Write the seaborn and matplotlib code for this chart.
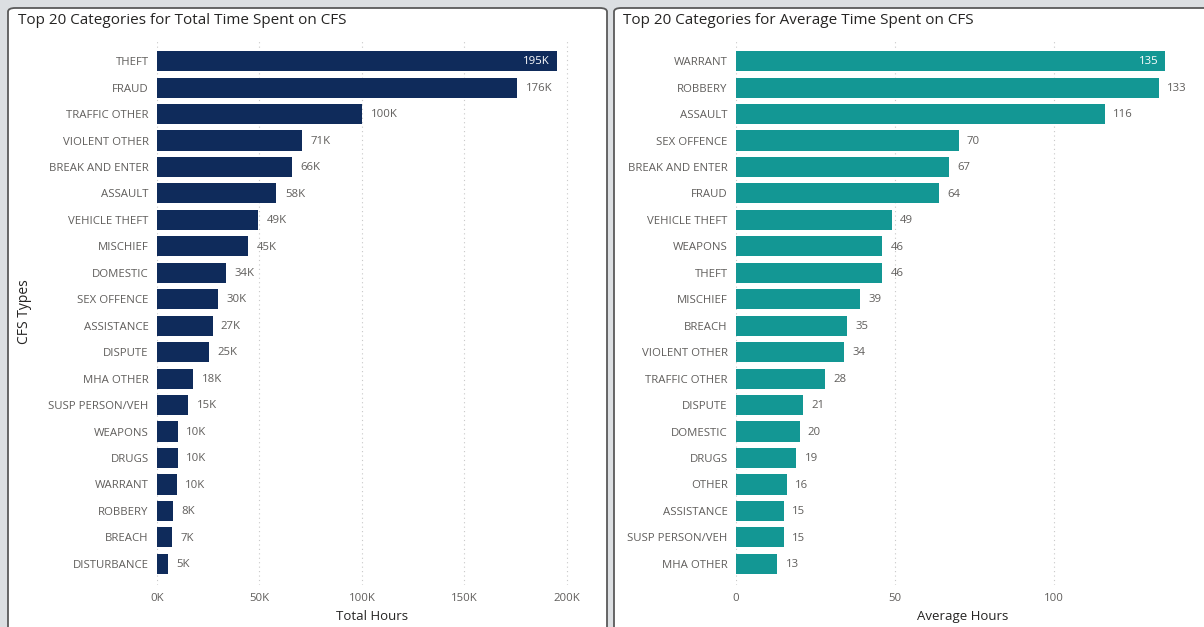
import matplotlib
matplotlib.use("Agg")
import matplotlib.pyplot as plt
import seaborn as sns
import pandas as pd
from matplotlib.patches import FancyBboxPatch
from matplotlib.ticker import FuncFormatter

sns.set_theme(style="white")
plt.rcParams['font.family'] = ['Open Sans', 'DejaVu Sans']

# --- data (hours) ---
total_types = ["THEFT", "FRAUD", "TRAFFIC OTHER", "VIOLENT OTHER", "BREAK AND ENTER",
               "ASSAULT", "VEHICLE THEFT", "MISCHIEF", "DOMESTIC", "SEX OFFENCE",
               "ASSISTANCE", "DISPUTE", "MHA OTHER", "SUSP PERSON/VEH", "WEAPONS",
               "DRUGS", "WARRANT", "ROBBERY", "BREACH", "DISTURBANCE"]
total_hours = [195200, 175800, 100100, 70800, 65900, 58300, 49400, 44600, 33900, 29800,
               27100, 25200, 17800, 15200, 10300, 10100, 9700, 7900, 7200, 5300]

avg_types = ["WARRANT", "ROBBERY", "ASSAULT", "SEX OFFENCE", "BREAK AND ENTER", "FRAUD",
             "VEHICLE THEFT", "WEAPONS", "THEFT", "MISCHIEF", "BREACH", "VIOLENT OTHER",
             "TRAFFIC OTHER", "DISPUTE", "DOMESTIC", "DRUGS", "OTHER", "ASSISTANCE",
             "SUSP PERSON/VEH", "MHA OTHER"]
avg_hours = [135, 133, 116, 70, 67, 64, 49, 46, 46, 39, 35, 34, 28, 21, 20, 19, 16, 15, 15, 13]

df_total = pd.DataFrame({"type": total_types, "hours": total_hours})
df_avg = pd.DataFrame({"type": avg_types, "hours": avg_hours})

NAVY = "#0f2b5b"
TEAL = "#139794"
TICK = "#605e5c"
DARK = "#252423"

fig = plt.figure(figsize=(12.04, 6.27), dpi=100)
fig.patch.set_facecolor("#dcdfe2")

W, H = 1204, 627
def px(x0, y0, x1, y1):
    return [x0 / W, 1 - y1 / H, (x1 - x0) / W, (y1 - y0) / H]

# panel backgrounds
for x0, x1 in [(8, 607), (614, 1212)]:
    fig.patches.append(FancyBboxPatch((x0 / W, -0.05), (x1 - x0) / W, 1 - 8 / H + 0.05,
                                      boxstyle="round,pad=0,rounding_size=0.006",
                                      transform=fig.transFigure, facecolor="white",
                                      edgecolor="#5a5a5a", linewidth=1.3, zorder=-5))

ax1 = fig.add_axes(px(157, 40, 587, 585))
ax2 = fig.add_axes(px(736, 40, 1190, 585))

def draw(ax, df, color, xmax, ticks, fmt, label_fmt, xlabel):
    sns.barplot(data=df, x="hours", y="type", color=color, width=0.76,
                saturation=1, linewidth=0, ax=ax, zorder=2)
    ax.set_xlim(0, xmax)
    ax.set_ylim(len(df) - 1 + 0.8, -0.8)
    ax.set_xticks(ticks)
    ax.xaxis.set_major_formatter(FuncFormatter(fmt))
    ax.grid(axis="x", color="#c8c8c8", linestyle=(0, (1, 3)), linewidth=0.8, zorder=0)
    ax.grid(axis="y", visible=False)
    for s in ax.spines.values():
        s.set_visible(False)
    ax.tick_params(axis="x", length=0, pad=5.5, labelsize=8.2, labelcolor=TICK)
    ax.tick_params(axis="y", length=0, pad=6, labelsize=8.2, labelcolor=TICK)
    ax.set_xlabel(xlabel, fontsize=9.5, color=DARK, labelpad=4.5)
    ax.set_ylabel("")
    ax.patch.set_alpha(0)
    top = max(df["hours"])
    for i, v in enumerate(df["hours"]):
        if v == top:
            ax.annotate(label_fmt(v), (v, i), xytext=(-5, -0.5), textcoords="offset points",
                        ha="right", va="center", color="white", fontsize=8.2)
        else:
            ax.annotate(label_fmt(v), (v, i), xytext=(6, -0.5), textcoords="offset points",
                        ha="left", va="center", color=TICK, fontsize=8.2)

draw(ax1, df_total, NAVY, 209800, [0, 50000, 100000, 150000, 200000],
     lambda v, p: f"{v / 1000:.0f}K", lambda v: f"{v / 1000:.0f}K", "Total Hours")
draw(ax2, df_avg, TEAL, 142.8, [0, 50, 100],
     lambda v, p: f"{v:.0f}", lambda v: f"{v:.0f}", "Average Hours")

fig.text(25 / W, 1 - 312 / H, "CFS Types", rotation=90, ha="center", va="center",
         fontsize=10, color=DARK)
fig.text(18 / W, 1 - 21 / H, "Top 20 Categories for Total Time Spent on CFS",
         ha="left", va="center", fontsize=11, color=DARK)
fig.text(623 / W, 1 - 21 / H, "Top 20 Categories for Average Time Spent on CFS",
         ha="left", va="center", fontsize=11, color=DARK)

fig.savefig("out.png", dpi=100)
